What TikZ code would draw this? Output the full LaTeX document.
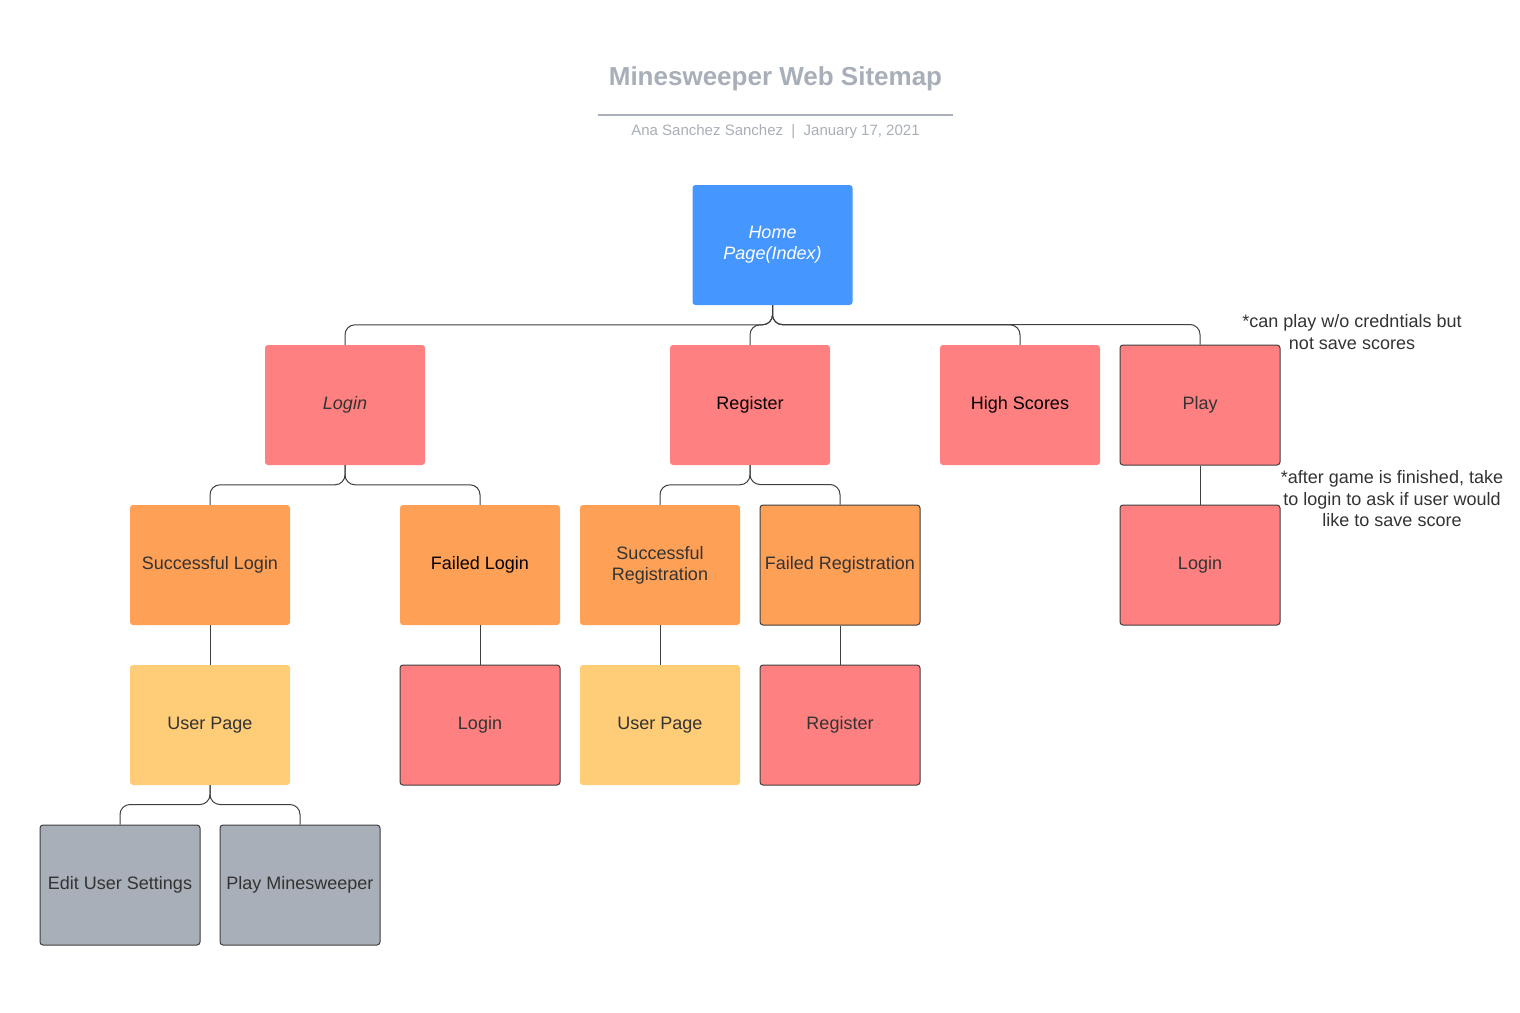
\documentclass[tikz,border=0pt]{standalone}
\usepackage{fontspec}
\setmainfont{Liberation Sans}
\begin{document}
\begin{tikzpicture}[x=1pt,y=-1pt,
  box/.style={rectangle,rounded corners=3pt,minimum width=160pt,minimum height=120pt,inner sep=2pt,align=center,font=\fontsize{18}{21}\selectfont,text=txtgray,draw=none},
  bord/.style={draw=linegray,line width=1pt},
  conn/.style={draw=linegray,line width=1pt,rounded corners=10pt},
  note/.style={align=center,font=\fontsize{18}{21.5}\selectfont,text=txtgray}]
\definecolor{hblue}{HTML}{4596FF}
\definecolor{pred}{HTML}{FF8080}
\definecolor{porange}{HTML}{FFA057}
\definecolor{pyellow}{HTML}{FFCC77}
\definecolor{pgray}{HTML}{A9AFB8}
\definecolor{titlegray}{HTML}{A9AFB8}
\definecolor{txtgray}{HTML}{333333}
\definecolor{linegray}{HTML}{3F3F3F}
\useasboundingbox[fill=white] (0,0) rectangle (1520,1012);

% title
\node[font=\bfseries\fontsize{26}{30}\selectfont,text=titlegray] (title) at (775.5,79) {Minesweeper Web Sitemap};
\coordinate (tl) at (598,115);
\coordinate (tr) at (953,115);
\draw[titlegray,line width=2pt] (tl) -- (tr);
\node[font=\fontsize{15}{18}\selectfont,text=titlegray] (sub) at (775.5,132) {Ana Sanchez Sanchez\ \ |\ \ January 17, 2021};

% nodes
\node[box,fill=hblue,text=white,font=\itshape\fontsize{18}{21}\selectfont] (home) at (772.5,245) {Home\\Page(Index)};
\node[box,fill=pred,font=\itshape\fontsize{18}{21}\selectfont] (login) at (345,405) {Login};
\node[box,fill=pred,text=black] (register) at (750,405) {Register};
\node[box,fill=pred,text=black] (high) at (1020,405) {High Scores};
\node[box,bord,fill=pred] (play) at (1200,405) {Play};

\node[box,fill=porange] (slogin) at (210,565) {Successful Login};
\node[box,fill=porange,text=black] (flogin) at (480,565) {Failed Login};
\node[box,fill=porange] (sreg) at (660,565) {Successful\\Registration};
\node[box,bord,fill=porange] (freg) at (840,565) {Failed Registration};
\node[box,bord,fill=pred] (plogin) at (1200,565) {Login};

\node[box,fill=pyellow] (upage1) at (210,725) {User Page};
\node[box,bord,fill=pred] (flogin2) at (480,725) {Login};
\node[box,fill=pyellow] (upage2) at (660,725) {User Page};
\node[box,bord,fill=pred] (freg2) at (840,725) {Register};

\node[box,bord,fill=pgray] (edit) at (120,885) {Edit User Settings};
\node[box,bord,fill=pgray] (pmine) at (300,885) {Play Minesweeper};

% notes
\node[note] (note1) at (1352,332) {*can play w/o credntials but\\not save scores};
\node[note] (note2) at (1392,499) {*after game is finished, take\\to login to ask if user would\\like to save score};

% connectors
\draw[conn] (home.south) |- ([yshift=20pt]login.north) -- (login.north);
\draw[conn] (home.south) |- ([yshift=20pt]register.north) -- (register.north);
\draw[conn] (home.south) |- ([yshift=20pt]high.north) -- (high.north);
\draw[conn] (home.south) |- ([yshift=20pt]play.north) -- (play.north);

\draw[conn] (login.south) |- ([yshift=20pt]slogin.north) -- (slogin.north);
\draw[conn] (login.south) |- ([yshift=20pt]flogin.north) -- (flogin.north);
\draw[conn] (register.south) |- ([yshift=20pt]sreg.north) -- (sreg.north);
\draw[conn] (register.south) |- ([yshift=20pt]freg.north) -- (freg.north);
\draw[conn] (play.south) -- (plogin.north);

\draw[conn] (slogin.south) -- (upage1.north);
\draw[conn] (flogin.south) -- (flogin2.north);
\draw[conn] (sreg.south) -- (upage2.north);
\draw[conn] (freg.south) -- (freg2.north);

\draw[conn] (upage1.south) |- ([yshift=20pt]edit.north) -- (edit.north);
\draw[conn] (upage1.south) |- ([yshift=20pt]pmine.north) -- (pmine.north);
\end{tikzpicture}
\end{document}
